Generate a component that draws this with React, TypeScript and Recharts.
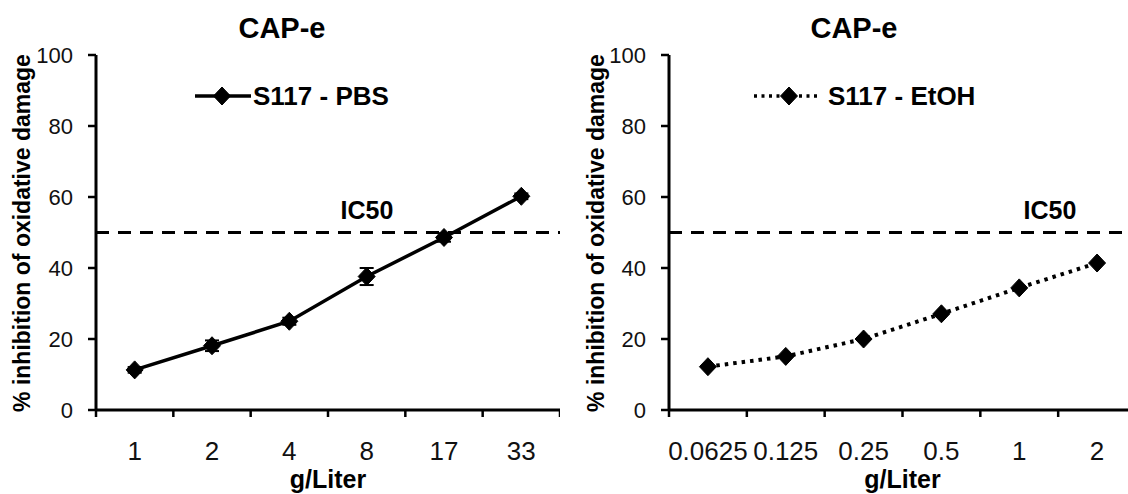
import React from 'react';
import { LineChart, Line, XAxis, YAxis, ReferenceLine, ErrorBar, Legend, Label } from 'recharts';

const pbsDoses = ['1', '2', '4', '8', '17', '33'];
const pbsValues = [11.3, 18.1, 25.0, 37.6, 48.6, 60.2];
const pbsErrors = [0.8, 1.5, 1.0, 2.4, 1.2, 0.8];
const etohDoses = ['0.0625', '0.125', '0.25', '0.5', '1', '2'];
const etohValues = [12.2, 15.1, 20.0, 27.1, 34.4, 41.4];
const yTicks = [0, 20, 40, 60, 80, 100];
const ic50Value = 50;
const chartTitle = 'CAP-e';
const yLabel = '% inhibition of oxidative damage';
const xLabel = 'g/Liter';
const pbsName = 'S117 - PBS';
const etohName = 'S117 - EtOH';

const FONT = '"Liberation Sans", Arial, Helvetica, sans-serif';

const pbsData = pbsDoses.map((d, i) => ({ dose: d, value: pbsValues[i], err: pbsErrors[i] }));
const etohData = etohDoses.map((d, i) => ({ dose: d, value: etohValues[i] }));

const Diamond = (props: any) => {
  const { cx, cy } = props;
  if (cx == null || cy == null) return null;
  const w = 8.5, h = 9;
  return (
    <polygon
      points={`${cx},${cy - h} ${cx + w},${cy} ${cx},${cy + h} ${cx - w},${cy}`}
      fill="#000"
      stroke="#000"
      strokeWidth={1}
    />
  );
};

const TICK_MARGIN = 32;

const XTick = (props: any) => {
  const { x, y, payload, width, visibleTicksCount, index } = props;
  const half = width / visibleTicksCount / 2;
  const axisY = y - TICK_MARGIN;
  return (
    <g>
      <line x1={x - half} x2={x - half} y1={axisY} y2={axisY + 7} stroke="#000" strokeWidth={2.5} />
      {index === visibleTicksCount - 1 && (
        <line x1={x + half} x2={x + half} y1={axisY} y2={axisY + 7} stroke="#000" strokeWidth={2.5} />
      )}
      <text x={x} y={y} dy="0.71em" textAnchor="middle" fill="#111" fontSize={26} fontFamily={FONT}>
        {payload.value}
      </text>
    </g>
  );
};

const LegendContent = ({ name, dotted }: { name: string; dotted: boolean }) => (
  <svg width={260} height={30} style={{ overflow: 'visible' }}>
    {dotted ? (
      <line x1={0} x2={66} y1={15} y2={15} stroke="#000" strokeWidth={3.5} strokeDasharray="3 4.5" />
    ) : (
      <line x1={0} x2={56} y1={15} y2={15} stroke="#000" strokeWidth={3.5} />
    )}
    <Diamond cx={dotted ? 35 : 27} cy={15} />
    <text x={dotted ? 74 : 58} y={15} dy="0.36em" fontSize={26} fontWeight="bold" fontFamily={FONT} fill="#000">
      {name}
    </text>
  </svg>
);

type PanelProps = {
  data: any[];
  width: number;
  yAxisWidth: number;
  dotted: boolean;
  name: string;
  legendLeft: number;
  yLabelX: number;
  ic50Offset: number;
  titleX: number;
  withErrors: boolean;
};

const Panel = (p: PanelProps) => (
  <LineChart
    width={p.width}
    height={494}
    data={p.data}
    margin={{ top: 55, right: 0, bottom: 0, left: 0 }}
  >
    <XAxis
      dataKey="dose"
      scale="band"
      height={84}
      axisLine={{ stroke: '#000', strokeWidth: 3 }}
      tickLine={false}
      tickSize={0}
      tickMargin={TICK_MARGIN}
      tick={<XTick />}
      interval={0}
    >
      <Label
        content={(lp: any) => {
          const vb = lp.viewBox;
          return (
            <text
              x={vb.x + vb.width / 2}
              y={488}
              textAnchor="middle"
              fontSize={25}
              fontWeight="bold"
              fontFamily={FONT}
              fill="#000"
            >
              {xLabel}
            </text>
          );
        }}
      />
    </XAxis>
    <YAxis
      width={p.yAxisWidth}
      domain={[0, 100]}
      ticks={yTicks}
      interval={0}
      axisLine={{ stroke: '#000', strokeWidth: 3 }}
      tickLine={{ stroke: '#000', strokeWidth: 2.5 }}
      tickSize={8}
      tickMargin={15}
      tick={{ fill: '#111', fontSize: 22, fontFamily: FONT }}
    >
      <Label
        content={() => (
          <text
            x={p.yLabelX}
            y={233}
            transform={`rotate(-90 ${p.yLabelX} 233)`}
            dy="0.36em"
            textAnchor="middle"
            fontSize={23}
            fontWeight="bold"
            fontFamily={FONT}
            fill="#000"
          >
            {yLabel}
          </text>
        )}
      />
    </YAxis>
    <ReferenceLine
      y={ic50Value}
      stroke="#000"
      strokeWidth={3}
      strokeDasharray="13 9"
      label={(lp: any) => {
        const vb = lp.viewBox;
        return (
          <g>
            <text
              x={vb.x + p.ic50Offset}
              y={vb.y - 14}
              textAnchor="middle"
              fontSize={25}
              fontWeight="bold"
              fontFamily={FONT}
              fill="#000"
            >
              IC50
            </text>
            <text
              x={p.titleX}
              y={38}
              textAnchor="middle"
              fontSize={29}
              fontWeight="bold"
              fontFamily={FONT}
              fill="#000"
            >
              {chartTitle}
            </text>
          </g>
        );
      }}
    />
    <Legend
      layout="horizontal"
      verticalAlign="middle"
      align="center"
      wrapperStyle={{ top: 81, left: p.legendLeft, width: 300, height: 30 }}
      content={() => <LegendContent name={p.name} dotted={p.dotted} />}
    />
    <Line
      type="linear"
      dataKey="value"
      name={p.name}
      stroke="#000"
      strokeWidth={p.dotted ? 4 : 3.5}
      strokeDasharray={p.dotted ? '3.5 5' : undefined}
      dot={<Diamond />}
      activeDot={false}
      isAnimationActive={false}
    >
      {p.withErrors && (
        <ErrorBar dataKey="err" direction="y" width={7} stroke="#000" strokeWidth={2} />
      )}
    </Line>
  </LineChart>
);

export default function App() {
  return (
    <div
      style={{
        position: 'absolute',
        left: 0,
        top: 0,
        width: 1128,
        height: 494,
        overflow: 'hidden',
        background: '#fff',
      }}
    >
      <div style={{ position: 'absolute', left: 0, top: 0 }}>
        <Panel
          data={pbsData}
          width={560}
          yAxisWidth={96}
          dotted={false}
          name={pbsName}
          legendLeft={195}
          yLabelX={22}
          ic50Offset={271}
          titleX={282}
          withErrors={true}
        />
      </div>
      <div style={{ position: 'absolute', left: 560, top: 0 }}>
        <Panel
          data={etohData}
          width={576}
          yAxisWidth={109}
          dotted={true}
          name={etohName}
          legendLeft={194}
          yLabelX={36}
          ic50Offset={381}
          titleX={294}
          withErrors={false}
        />
      </div>
    </div>
  );
}
